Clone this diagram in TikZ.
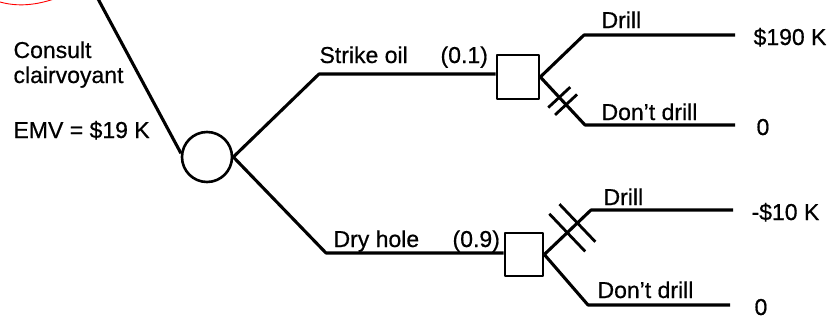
\documentclass[tikz,border=0pt]{standalone}
\usepackage{fontspec}
\setmainfont[FakeBold=0.6]{Liberation Sans}
\usetikzlibrary{calc}
\begin{document}
\begin{tikzpicture}[x=1pt,y=-1pt,line width=3.1pt,line join=round,
  lbl/.style={font=\fontsize{23}{27}\selectfont, inner sep=0pt, anchor=base west},
  chance/.style={circle,draw,minimum size=50pt,inner sep=0pt,line width=2.6pt},
  decision/.style={rectangle,draw,inner sep=0pt,line width=2.6pt},
  hashmark/.style={line width=2.8pt}]
\useasboundingbox (0,0) rectangle (834,322);
% red annotation arc (cut off)
\draw[red, line width=0.9pt] (0,2) .. controls (18,7) and (36,5) .. (54,-1);
% nodes
\node[chance] (cc) at (207,157) {};
\node[decision,minimum width=42pt,minimum height=44pt] (b1) at (518,77) {};
\node[decision,minimum width=38pt,minimum height=43pt] (b2) at (524,254.5) {};
\coordinate (top) at (97,-3);
\coordinate (k1) at (319,74);
\coordinate (k2) at (326,253);
\coordinate (d1) at (584,35);
\coordinate (e1) at (735,35);
\coordinate (n1) at (585,125);
\coordinate (f1) at (735,125);
\coordinate (d2) at (591,210);
\coordinate (e2) at (733,210);
\coordinate (n2) at (588,305);
\coordinate (f2) at (730,305);
% connectors
\draw (top) -- (cc.172);
\draw (cc.east) -- (k1) -- (k1 -| b1.west);
\draw (cc.east) -- (k2) -- (k2 -| b2.west);
\draw (b1.east) -- (d1) -- (e1);
\draw (b1.east) -- (n1) -- (f1);
\draw (b2.east) -- (d2) -- (e2);
\draw (b2.east) -- (n2) -- (f2);
% hash marks: upper box, Don't drill branch
\coordinate (h1) at ($(b1.east)!0.5!(n1)$);
\coordinate (h1a) at ($(h1)!5pt!(n1)$);
\coordinate (h1b) at ($(h1)!-5pt!(n1)$);
\draw[hashmark] ($(h1a)!15pt!90:(n1)$) -- ($(h1a)!15pt!-90:(n1)$);
\draw[hashmark] ($(h1b)!15pt!90:(n1)$) -- ($(h1b)!15pt!-90:(n1)$);
% hash marks: lower box, Drill branch
\coordinate (h2) at ($(b2.east)!0.6!(d2)$);
\coordinate (h2a) at ($(h2)!7pt!(d2)$);
\coordinate (h2b) at ($(h2)!-7pt!(d2)$);
\draw[hashmark] ($(h2a)!26pt!90:(d2)$) -- ($(h2a)!26pt!-90:(d2)$);
\draw[hashmark] ($(h2b)!26pt!90:(d2)$) -- ($(h2b)!26pt!-90:(d2)$);
% labels
\node[lbl] (t1) at (12,58) {Consult};
\node[lbl] (t2) at (12,83) {clairvoyant};
\node[lbl] (t3) at (12,138) {EMV = \$19 K};
\node[lbl] (so) at (318,63) {Strike oil};
\node[lbl] (p1) at (439,63) {(0.1)};
\node[lbl] (dh) at (332,247) {Dry hole};
\node[lbl] (p2) at (451,247) {(0.9)};
\node[lbl] (dr1) at (600,28) {Drill};
\node[lbl] (nd1) at (600,120) {Don't drill};
\node[lbl] (dr2) at (602,205) {Drill};
\node[lbl] (nd2) at (596,298) {Don't drill};
\node[lbl] (v1) at (752,45) {\$190 K};
\node[lbl] (v2) at (755,135) {0};
\node[lbl] (v3) at (750,220) {-\$10 K};
\node[lbl] (v4) at (753,315) {0};
\end{tikzpicture}
\end{document}
